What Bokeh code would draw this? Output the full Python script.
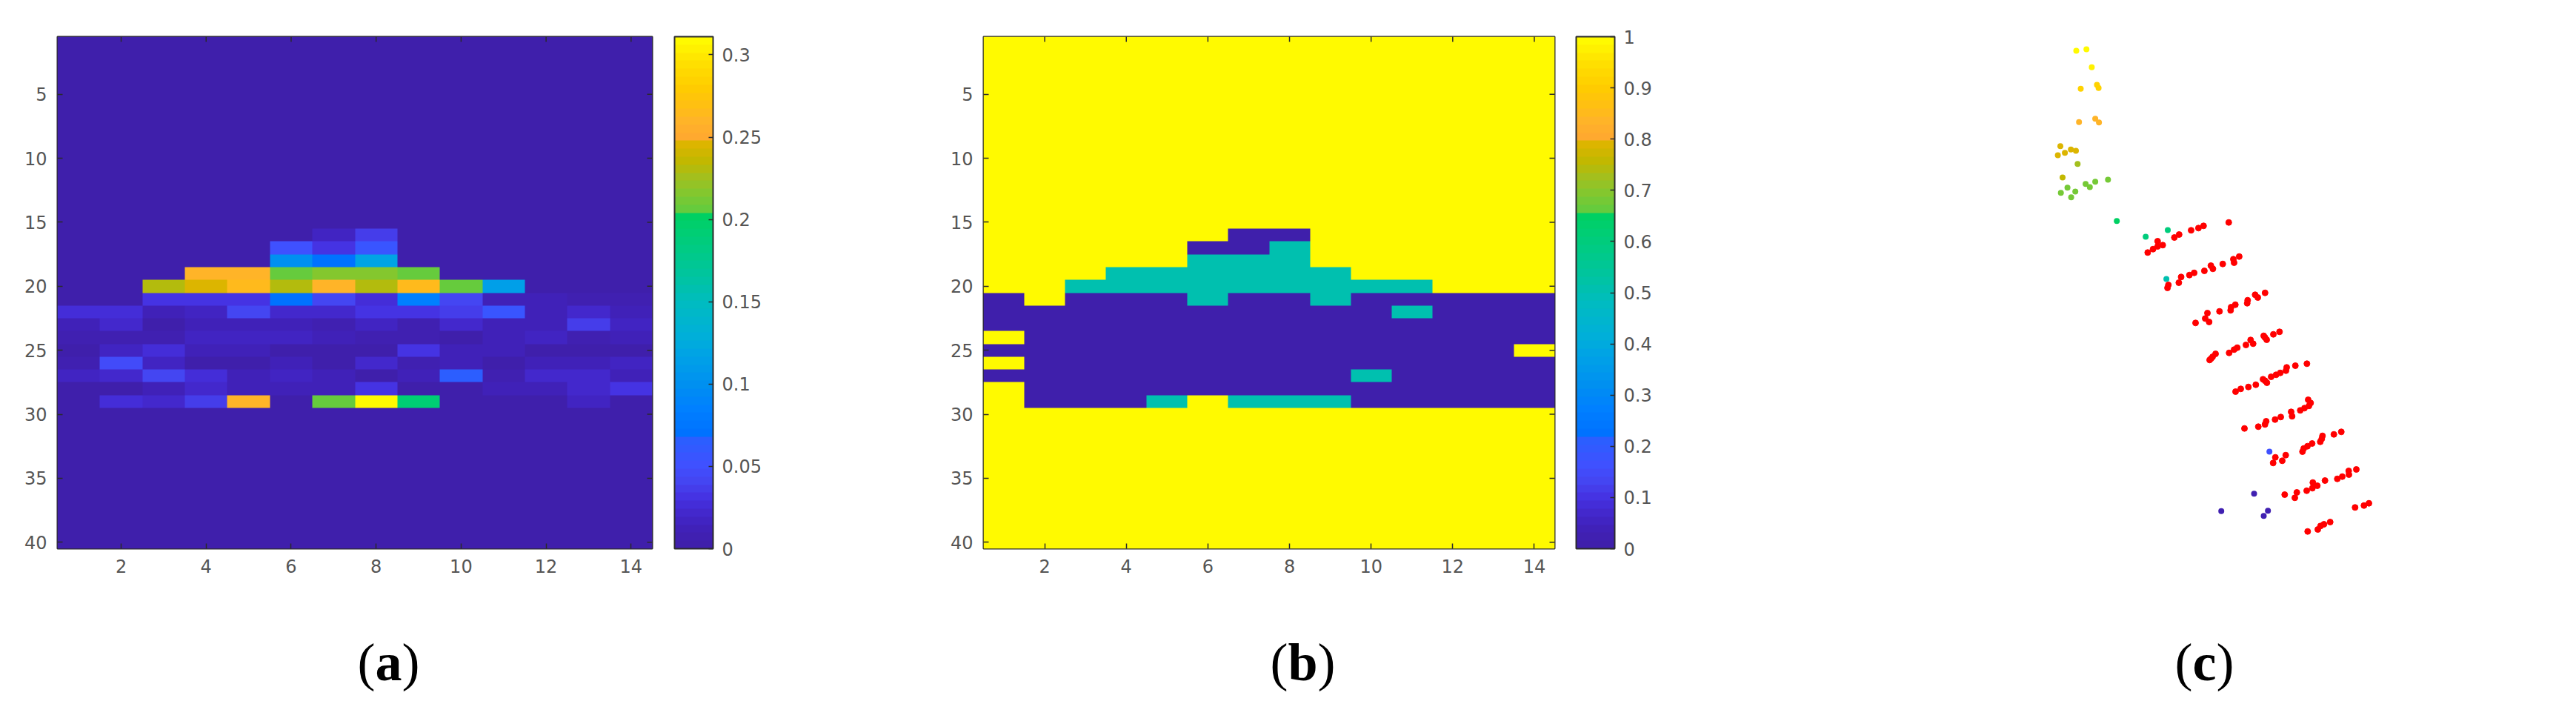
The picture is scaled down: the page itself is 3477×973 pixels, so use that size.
from bokeh.embed import file_html
from bokeh.layouts import column, row
from bokeh.models import (ColorBar, ColumnDataSource, FixedTicker, Label, LinearAxis,
                          LinearColorMapper, NumeralTickFormatter, Range1d)
from bokeh.plotting import figure
from bokeh.resources import INLINE
import numpy as np

# colormap stops (a)
cmap_stops = [0, 0.01, 0.02, 0.03, 0.04, 0.05, 0.0675, 0.0685, 0.085, 0.1, 0.115, 0.13, 0.15, 0.165,
              0.185, 0.2035, 0.2045, 0.215, 0.225, 0.235, 0.2485, 0.2495, 0.26, 0.27, 0.28, 0.295, 0.311]
cmap_hex = ["#3f1fa8", "#4020b4", "#4226c8", "#4530e0", "#4544f0", "#4050ff", "#2a60ff", "#0070ff", "#0080ff",
            "#0090f0", "#00a0e8", "#00b0d8", "#00bcc0", "#00c4a0", "#00cc80", "#00d060", "#60cc40", "#80c830",
            "#a0c020", "#c0b800", "#e4b400", "#ffa830", "#ffb428", "#ffc010", "#ffcc00", "#ffe000", "#ffff00"]

a_max = 0.311
a_ticks = [0, 0.05, 0.1, 0.15, 0.2, 0.25, 0.3]
b_ticks = [0, 0.1, 0.2, 0.3, 0.4, 0.5, 0.6, 0.7, 0.8, 0.9, 1]
x_ticks = [2, 4, 6, 8, 10, 12, 14]
y_ticks = [5, 10, 15, 20, 25, 30, 35, 40]

# rows 16 to 29 of panel (a), everything else is 0
a_rows = [
    [0, 0, 0, 0, 0, 0, .015, .035, 0, 0, 0, 0, 0, 0],
    [0, 0, 0, 0, 0, .05, .03, .058, 0, 0, 0, 0, 0, 0],
    [0, 0, 0, 0, 0, .1, .072, .118, 0, 0, 0, 0, 0, 0],
    [0, 0, 0, .258, .262, .205, .215, .216, .207, 0, 0, 0, 0, 0],
    [0, 0, .232, .247, .265, .232, .258, .232, .265, .205, .115, 0, 0, 0],
    [0, 0, .032, .032, .032, .072, .04, .025, .085, .04, .012, .01, .005, .005],
    [.028, .025, .01, .018, .042, .022, .02, .03, .032, .035, .058, .012, .02, .012],
    [.012, .022, .004, .01, .01, .012, .005, .015, .005, .02, .01, .01, .038, .018],
    [.005, .005, .005, .016, .016, .018, .012, .005, .005, .004, .01, .018, .005, .012],
    [.004, .016, .028, .01, .01, .004, .004, .004, .03, .01, .01, .004, .004, .004],
    [.005, .045, .018, .004, .004, .012, .004, .022, .005, .01, .004, .012, .012, .018],
    [.016, .02, .04, .025, .01, .016, .01, .003, .01, .066, .008, .02, .02, .01],
    [.004, .003, .012, .02, .012, .014, .012, .03, .004, .002, .01, .012, .022, .03],
    [0, .025, .02, .038, .26, 0, .205, .311, .19, 0, 0, 0, .016, 0],
]

# rows 16 to 29 of panel (b), everything else is 1
b_rows = [
    [1, 1, 1, 1, 1, 1, 0, 0, 1, 1, 1, 1, 1, 1],
    [1, 1, 1, 1, 1, 0, 0, .5, 1, 1, 1, 1, 1, 1],
    [1, 1, 1, 1, 1, .5, .5, .5, 1, 1, 1, 1, 1, 1],
    [1, 1, 1, .5, .5, .5, .5, .5, .5, 1, 1, 1, 1, 1],
    [1, 1, .5, .5, .5, .5, .5, .5, .5, .5, .5, 1, 1, 1],
    [0, 1, 0, 0, 0, .5, 0, 0, .5, 0, 0, 0, 0, 0],
    [0, 0, 0, 0, 0, 0, 0, 0, 0, 0, .5, 0, 0, 0],
    [0, 0, 0, 0, 0, 0, 0, 0, 0, 0, 0, 0, 0, 0],
    [1, 0, 0, 0, 0, 0, 0, 0, 0, 0, 0, 0, 0, 0],
    [0, 0, 0, 0, 0, 0, 0, 0, 0, 0, 0, 0, 0, 1],
    [1, 0, 0, 0, 0, 0, 0, 0, 0, 0, 0, 0, 0, 0],
    [0, 0, 0, 0, 0, 0, 0, 0, 0, .5, 0, 0, 0, 0],
    [1, 0, 0, 0, 0, 0, 0, 0, 0, 0, 0, 0, 0, 0],
    [1, 0, 0, 0, .5, 1, .5, .5, .5, 0, 0, 0, 0, 0],
]

# panel (c): points, the ones coloured through the colormap
c_x = [2802, 2815.7, 2822.9, 2808, 2829.9, 2832.1, 2805.7, 2827.6, 2832.6, 2780.5, 2794.7, 2801.5, 2786.6, 2777.1,
       2803.8, 2783.5, 2844.8, 2827.6, 2814.6, 2820.3, 2790.1, 2800.7, 2781.2, 2795.1, 2856.7, 2925.5, 2895.7, 2923.6,
       3062.7, 3042, 2997.7, 3060.7, 3055]
c_y = [68, 66, 90.3, 119.3, 114, 118.3, 164.3, 159.7, 164.7, 196.7, 201.3, 203, 205.7, 209,
       220.7, 239, 242, 244.7, 247.7, 252, 252.7, 258, 259.7, 265.7, 297.7, 310, 319, 376,
       609, 665.7, 689.3, 688.7, 695.7]
c_val = [.311, .311, .305, .285, .285, .285, .262, .262, .262, .245, .245, .245, .245, .245,
         .228, .236, .21, .21, .21, .21, .21, .21, .21, .21, .2, .185, .185, .16,
         .05, .005, .005, .005, .005]

# the red stripes
red_x = [3007.8, 2973.8, 2966.9, 2957, 2940.8, 2934.4, 2911.8, 2918.7, 2911.8, 2905.6, 2898.4,
         3021.9, 3014, 3015, 2999.7, 2983.7, 2986.4, 2974.9, 2961.1, 2954.7, 2943.5, 2940.4, 2926.3, 2925.1,
         3056.8, 3043.4, 3047, 3033.3, 3032.7, 3016.7, 3011, 3010.3, 2995.3, 2979, 2976, 2981.3, 2963,
         3076.3, 3068, 3055, 3056.7, 3059, 3037.3, 3040.7, 3031, 3019.3, 3015, 3008.3, 2990, 2986, 2984, 2982,
         3113.3, 3097.7, 3086, 3085, 3077.3, 3071.7, 3065, 3054, 3056.7, 3059.3, 3044.3, 3034.3, 3024, 3017,
         3115, 3118.3, 3116, 3110, 3104.3, 3092, 3093.3, 3078, 3070.3, 3058.3, 3056.7, 3047.7, 3029,
         3159.7, 3149.7, 3134.3, 3133.3, 3131.3, 3120.3, 3114, 3109, 3107.3, 3084.7, 3070.7, 3080, 3067.7,
         3180, 3169.7, 3170, 3161, 3154.3, 3137.7, 3121.3, 3127.3, 3120.7, 3113, 3099.7, 3083.3, 3097,
         3197, 3190.3, 3178.3, 3144.7, 3136.3, 3131.7, 3128, 3114.3]
red_y = [299.7, 304.3, 307.3, 310.3, 316, 320, 325, 330.3, 332, 335.7, 340.3,
         345.7, 349.3, 354, 355.7, 358, 362.3, 365, 367.7, 370.7, 373.3, 381, 384, 388,
         394.7, 397.3, 401, 404.7, 408.7, 410.7, 414, 418.3, 419.7, 422, 429.3, 434, 435.3,
         447.3, 450.7, 452.7, 455, 458, 458.3, 463.3, 465, 468.7, 471.3, 475.7, 477, 481, 483.3, 485.3,
         490.3, 493, 495.3, 499.7, 502.7, 505.3, 508, 511.3, 513.3, 516, 518.7, 521.7, 524.3, 528,
         539, 543.3, 547.3, 550.3, 553.3, 555.3, 561.3, 562.3, 565.7, 568, 572.3, 575.3, 577.7,
         582.3, 585.7, 587.7, 591.7, 595.7, 598, 601.7, 604.7, 609, 613.7, 616.7, 621.3, 624.3,
         633, 635, 640, 642.7, 645.7, 648, 650.7, 655, 658.3, 661.7, 664, 667, 671.3,
         678.7, 681.7, 684.3, 704, 707, 709.3, 714, 716.7]

# captions: letter, left edge and width of each piece, in page pixels
cap_letters = ["a", "b", "c"]
cap_left = [482, 1714, 2935]
cap_letter_w = [36, 40, 32]

TICK_COLOR = "#555555"
LINE_COLOR = "#2b2b2b"
TICK_FONT = "24px"
PANEL_H = 815
CAP_H = 143
TOP = 49
FRAME_H = 691


def make_palette():
    rgb = np.array([[int(h[i:i + 2], 16) for i in (1, 3, 5)] for h in cmap_hex], dtype=float)
    levels = (np.arange(64) + 0.5) / 64 * a_max
    out = []
    for lev in levels:
        vals = [int(round(np.interp(lev, cmap_stops, rgb[:, k]))) for k in range(3)]
        out.append("#%02x%02x%02x" % tuple(vals))
    return out


def fill_grid(rows, background):
    grid = np.full((40, 14), float(background))
    grid[15:29] = rows
    return grid


def heatmap_panel(grid, mapper, ticks, fmt, width, left, frame_w, bar_gap):
    p = figure(width=width, height=PANEL_H, x_range=Range1d(0.5, 14.5), y_range=Range1d(40.5, 0.5),
               output_backend="svg", toolbar_location=None, x_axis_type=None, y_axis_type=None,
               min_border_left=left, min_border_top=TOP, min_border_bottom=PANEL_H - TOP - FRAME_H,
               min_border_right=width - left - frame_w)
    p.grid.visible = False
    p.image(image=[grid], x=0.5, y=0.5, dw=14, dh=40, color_mapper=mapper)

    for place, ticker in [("below", x_ticks), ("left", y_ticks)]:
        ax = LinearAxis(ticker=FixedTicker(ticks=ticker))
        ax.major_tick_in = 7
        ax.major_tick_out = 0
        ax.minor_tick_line_color = None
        ax.major_tick_line_color = LINE_COLOR
        ax.major_tick_line_width = 1.5
        ax.axis_line_color = None
        ax.major_label_text_font = "DejaVu Sans"
        ax.major_label_text_font_size = TICK_FONT
        ax.major_label_text_color = TICK_COLOR
        ax.major_label_standoff = 14
        p.add_layout(ax, place)

    # matlab box ticks on the top and right sides, half of each dash falls outside the frame
    p.scatter(x_ticks, [0.5] * len(x_ticks), marker="dash", angle=np.pi / 2, size=14,
              line_color=LINE_COLOR, line_width=1.5)
    p.scatter([14.5] * len(y_ticks), y_ticks, marker="dash", size=14,
              line_color=LINE_COLOR, line_width=1.5)

    p.outline_line_color = LINE_COLOR
    p.outline_line_width = 2

    cb = ColorBar(color_mapper=mapper, ticker=FixedTicker(ticks=ticks), formatter=NumeralTickFormatter(format=fmt),
                  width=52, height="auto", padding=0, location=(bar_gap, 0), label_standoff=12,
                  major_tick_in=6, major_tick_line_color=LINE_COLOR, major_tick_line_width=1.5,
                  minor_tick_line_color=None, bar_line_color=LINE_COLOR, bar_line_width=2,
                  border_line_color=None, background_fill_color=None,
                  major_label_text_font="DejaVu Sans", major_label_text_font_size=TICK_FONT,
                  major_label_text_color=TICK_COLOR)
    p.add_layout(cb, "right")
    return p


palette = make_palette()
a_mapper = LinearColorMapper(palette=palette, low=0, high=a_max)
b_mapper = LinearColorMapper(palette=palette, low=0, high=1)

p_a = heatmap_panel(fill_grid(a_rows, 0), a_mapper, a_ticks, "0.[00]", 1240, 77, 803, 30)
p_b = heatmap_panel(fill_grid(b_rows, 1), b_mapper, b_ticks, "0.[0]", 1260, 87, 771, 29)

p_c = figure(width=969, height=PANEL_H, x_range=Range1d(2500, 3469), y_range=Range1d(TOP + FRAME_H, TOP),
             output_backend="svg", toolbar_location=None, x_axis_type=None, y_axis_type=None,
             min_border_left=0, min_border_right=0, min_border_top=TOP,
             min_border_bottom=PANEL_H - TOP - FRAME_H, outline_line_color=None)
p_c.grid.visible = False
c_source = ColumnDataSource(dict(x=c_x, y=c_y, val=c_val))
p_c.scatter("x", "y", source=c_source, size=8, line_color=None,
            fill_color={"field": "val", "transform": a_mapper})
p_c.scatter(red_x, red_y, size=8, color="#ff0000")

# labels outside a frame do not show, so the captions get their own strip
p_cap = figure(width=3469, height=CAP_H, x_range=Range1d(0, 3469), y_range=Range1d(PANEL_H + CAP_H, PANEL_H),
               output_backend="svg", toolbar_location=None, x_axis_type=None, y_axis_type=None,
               min_border=0, outline_line_color=None)
p_cap.grid.visible = False
for letter, left, w in zip(cap_letters, cap_left, cap_letter_w):
    x = left
    for text, style, step in [("(", "normal", 24), (letter, "bold", w), (")", "normal", 24)]:
        p_cap.add_layout(Label(x=x, y=893, text=text, text_font="Liberation Serif", text_font_size="72px",
                               text_font_style=style, text_color="black", text_align="left",
                               text_baseline="alphabetic"))
        x += step

page = column(row(p_a, p_b, p_c), p_cap)
open("out.html", "w").write(file_html(page, INLINE))
